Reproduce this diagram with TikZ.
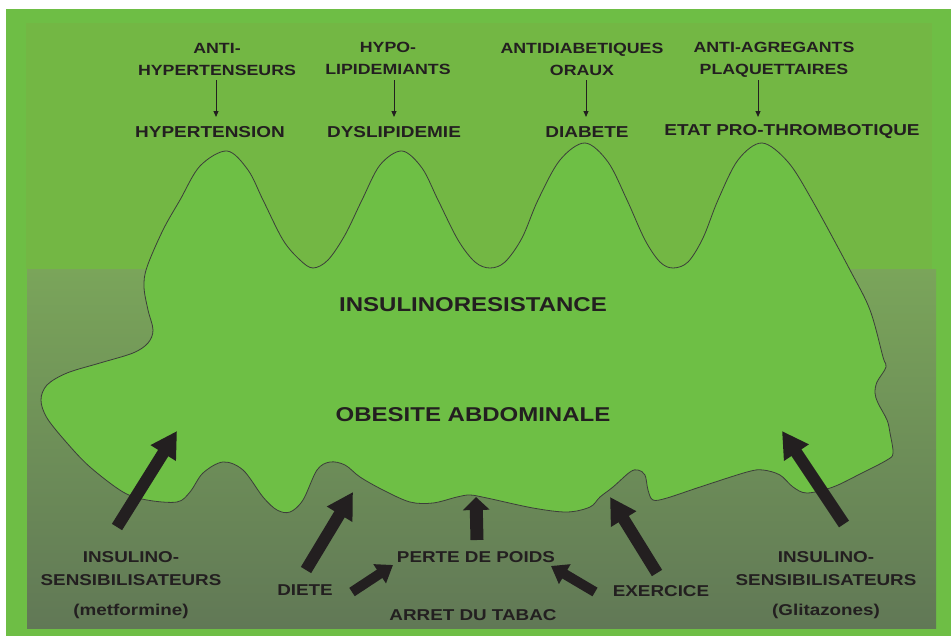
\documentclass[tikz,border=0pt]{standalone}
\usepackage{fontspec}
\newfontfamily\lab{Liberation Sans}[FakeStretch=1.2]
\usetikzlibrary{arrows.meta}
\definecolor{framegreen}{RGB}{110,190,69}
\definecolor{uppergreen}{RGB}{115,183,68}
\definecolor{blobgreen}{RGB}{110,191,69}
\definecolor{lowtop}{RGB}{122,165,90}
\definecolor{lowbot}{RGB}{97,120,86}
\definecolor{ink}{RGB}{35,31,32}
\definecolor{outline}{RGB}{60,62,58}
\tikzset{
  lbl/.style={inner sep=0pt, text=ink, align=center, font=\lab\bfseries},
  drug/.style={lbl, font=\lab\bfseries\fontsize{14.8}{22}\selectfont},
  cond/.style={lbl, font=\lab\bfseries\fontsize{15.8}{19}\selectfont},
  central/.style={lbl, font=\lab\bfseries\fontsize{20}{24}\selectfont},
  low/.style={lbl, font=\lab\bfseries\fontsize{15.7}{23}\selectfont},
  thin/.style={draw=ink, line width=1pt, -{Triangle[length=6pt,width=5pt]}},
  fat/.style={draw=ink, line width=12pt, -{Triangle[length=26pt,width=28pt]}},
  midfat/.style={draw=ink, line width=13pt, -{Triangle[length=13pt,width=26pt]}},
  smallfat/.style={draw=ink, line width=10pt, -{Triangle[length=16pt,width=22pt]}}
}
\begin{document}
\begin{tikzpicture}[x=1pt,y=-1pt]
\useasboundingbox (0,0) rectangle (951,637);
\fill[white] (0,0) rectangle (951,637);
\fill[framegreen] (6,9) rectangle (951,636);
\fill[uppergreen] (26,23) rectangle (932,269);
\shade[top color=lowtop, bottom color=lowbot] (27,269) rectangle (936,628);

% blob
\draw[fill=blobgreen, draw=outline, line width=0.8pt]
 plot[smooth cycle, tension=0.55] coordinates {
 (41,400) (47,385) (67,373) (100,363) (133,353) (148,343) (153,330) (148,310) (144,287) (147,267) (163,230) (180,200)
 (200,166) (227,151) (248,170) (263,200) (283,240) (300,260) (313,268) (328,260) (345,235) (362,200)
 (380,165) (402,151) (422,168) (438,200) (458,240) (475,262) (490,268) (505,262) (522,238) (538,200)
 (560,160) (585,143) (608,162) (627,200) (645,240) (660,262) (673,268) (688,262) (703,238) (718,200)
 (738,160) (762,143) (788,162) (812,200) (850,270) (870,310) (883,357) (886,367) (877,382) (875,393) (878,403)
 (887,420) (890,433) (893,453) (887,460) (860,474) (833,487) (807,493) (793,487) (780,475) (763,470) (747,472)
 (700,487) (667,498) (653,500) (648,490) (645,475) (638,470) (630,472) (613,487) (600,497) (590,507)
 (567,512) (533,508) (487,498) (470,495) (457,497) (433,503) (410,502) (383,490) (360,477) (345,465) (330,462)
 (317,470) (303,500) (290,512) (277,510) (263,497) (243,470) (223,462) (203,473) (190,492) (177,502)
 (147,500) (123,492) (90,467) (67,443) (47,418)};

% top labels
\node[drug] (d1) at (217,59) {ANTI-\\HYPERTENSEURS};
\node[drug] (d2) at (388,58) {HYPO-\\LIPIDEMIANTS};
\node[drug] (d3) at (582,59) {ANTIDIABETIQUES\\ORAUX};
\node[drug] (d4) at (774,60) {ANTI-AGREGANTS\\PLAQUETTAIRES};
\node[cond] (c1) at (210,132) {HYPERTENSION};
\node[cond] (c2) at (394,132) {DYSLIPIDEMIE};
\node[cond] (c3) at (587,132) {DIABETE};
\node[cond] (c4) at (792,132) {ETAT PRO-THROMBOTIQUE};

\coordinate (t1a) at (216,80); \coordinate (t1b) at (216,117);
\coordinate (t2a) at (394,80); \coordinate (t2b) at (394,117);
\coordinate (t3a) at (586,80); \coordinate (t3b) at (586,117);
\coordinate (t4a) at (758,80); \coordinate (t4b) at (758,117);
\draw[thin] (t1a) -- (t1b);
\draw[thin] (t2a) -- (t2b);
\draw[thin] (t3a) -- (t3b);
\draw[thin] (t4a) -- (t4b);

% central labels
\node[central] (ir) at (473,305) {INSULINORESISTANCE};
\node[central] (oa) at (473,415) {OBESITE ABDOMINALE};

% bottom labels
\node[low, anchor=north] (isl) at (131,551) {INSULINO-\\SENSIBILISATEURS\\[7.4pt](metformine)};
\node[low, anchor=north] (isr) at (826,551) {INSULINO-\\SENSIBILISATEURS\\[7.4pt](Glitazones)};
\node[low] (diete) at (305,590) {DIETE};
\node[low] (perte) at (476,557) {PERTE DE POIDS};
\node[low] (tabac) at (473,615) {ARRET DU TABAC};
\node[low] (exer) at (661,591) {EXERCICE};

% thick arrows
\coordinate (a1s) at (117,527); \coordinate (a1e) at (177,431);
\coordinate (a2s) at (844,524); \coordinate (a2e) at (782,431);
\coordinate (a3s) at (306,570); \coordinate (a3e) at (353,492);
\coordinate (a4s) at (657,573); \coordinate (a4e) at (610,497);
\coordinate (a5s) at (477,540); \coordinate (a5e) at (476,497);
\coordinate (a6s) at (352,592); \coordinate (a6e) at (393,565);
\coordinate (a7s) at (595,592); \coordinate (a7e) at (551,566);
\draw[fat] (a1s) -- (a1e);
\draw[fat] (a2s) -- (a2e);
\draw[fat] (a3s) -- (a3e);
\draw[fat] (a4s) -- (a4e);
\draw[midfat] (a5s) -- (a5e);
\draw[smallfat] (a6s) -- (a6e);
\draw[smallfat] (a7s) -- (a7e);
\end{tikzpicture}
\end{document}
